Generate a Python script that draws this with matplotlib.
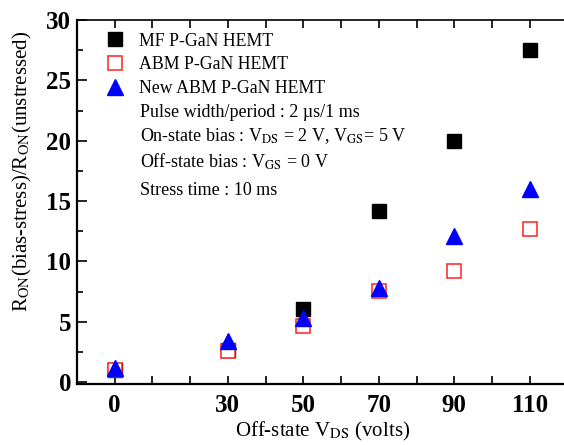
import numpy as np
import matplotlib
matplotlib.use("Agg")
import matplotlib.pyplot as plt

plt.rcParams['font.family'] = ['Liberation Serif', 'DejaVu Serif']
plt.rcParams['mathtext.fontset'] = 'stix'

# data
vds = [0, 30, 50, 70, 90, 110]
mf = [1.0, 2.65, 6.05, 14.15, 20.0, 27.5]
abm = [1.0, 2.6, 4.67, 7.57, 9.2, 12.7]
new_abm = [1.18, 3.45, 5.3, 7.8, 12.07, 16.0]
xtick_labels = ['0', '30', '50', '70', '90', '110']

fig = plt.figure(figsize=(5.64, 4.45), dpi=100)
ax = fig.add_axes([0.1365, 0.137, 0.8697, 0.818])

ax.plot(vds, mf, ls='none', marker='s', ms=9.4, color='black', mec='black',
        label='MF P-GaN HEMT', zorder=3)
ax.plot(vds, abm, ls='none', marker='s', ms=9.4, mfc='white', mec='#ff2020',
        mew=1.1, label='ABM P-GaN HEMT', zorder=4)
ax.plot(vds, new_abm, ls='none', marker='^', ms=12, color='#0000ff',
        label='New ABM P-GaN HEMT', zorder=5)

ax.set_xlim(-10, 120)
ax.set_ylim(-0.15, 30)

xt = np.arange(0, 111, 10)
ax.set_xticks(xt)
ax.set_xticklabels([str(v) if str(v) in xtick_labels else '' for v in xt])
ax.set_yticks([0, 5, 10, 15, 20, 25, 30])
ax.set_yticks(np.arange(2.5, 30, 5), minor=True)
ax.tick_params(axis='x', which='both', direction='in', top=True, length=6,
               width=1.2, labelsize=18, pad=7)
ax.tick_params(axis='y', which='major', direction='in', length=7, width=1.2,
               labelsize=18, pad=4)
ax.tick_params(axis='y', which='minor', direction='in', length=4, width=1.2)
for lab in ax.get_xticklabels() + ax.get_yticklabels():
    lab.set_fontweight('bold')

ax.spines['right'].set_visible(False)
for s in ['left', 'bottom']:
    ax.spines[s].set_linewidth(1.6)
ax.spines['top'].set_linewidth(1.2)

ax.set_xlabel(r'Off-state V$_{\mathrm{DS}}$ (volts)', fontsize=15, labelpad=2)
ax.set_ylabel(r'R$_{\mathrm{ON}}$(bias-stress)/R$_{\mathrm{ON}}$(unstressed)',
              fontsize=15)
ax.yaxis.set_label_coords(-0.088, 0.585)

leg = ax.legend(loc='upper left', bbox_to_anchor=(0.042, 0.985), frameon=False,
                fontsize=12.8, handletextpad=0.75, labelspacing=0.38,
                borderaxespad=0, handlelength=1.2)

notes = ['Pulse width/period : 2 \u00b5s/1 ms',
         r'On-state bias : V$_{\mathrm{DS}}$ = 2 V, V$_{\mathrm{GS}}$= 5 V',
         r'Off-state bias : V$_{\mathrm{GS}}$ = 0 V',
         'Stress time : 10 ms']
note_y = [0.747, 0.682, 0.61, 0.532]
for t, y in zip(notes, note_y):
    ax.text(0.128, y, t, transform=ax.transAxes, fontsize=13, va='center')

fig.savefig('out.png', dpi=100)
